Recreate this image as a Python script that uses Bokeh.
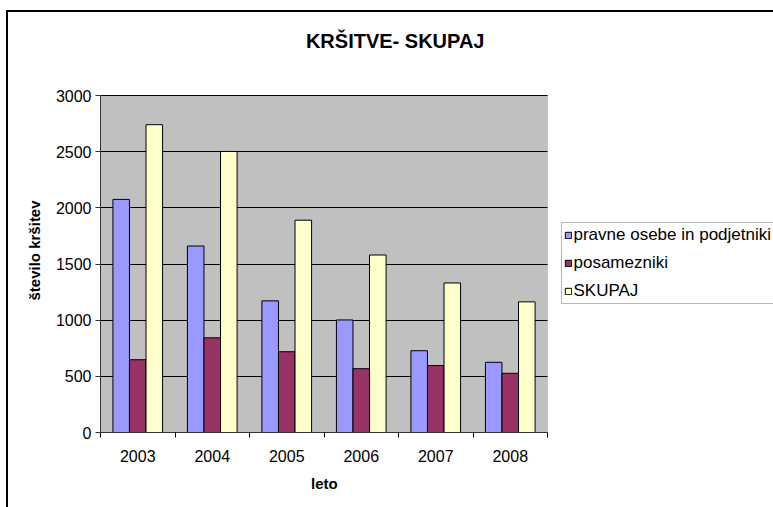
from bokeh.plotting import figure
from bokeh.models import (ColumnDataSource, FixedTicker, Legend, LegendItem,
                          Label, BoxAnnotation, Title)
from bokeh.transform import dodge
from bokeh.embed import file_html
from bokeh.resources import INLINE

# ---- data ----
years = ["2003", "2004", "2005", "2006", "2007", "2008"]
pravne = [2075, 1660, 1172, 1002, 728, 625]
posamezniki = [648, 843, 719, 568, 596, 527]
skupaj = [2740, 2502, 1890, 1580, 1331, 1163]
series_names = ["pravne osebe in podjetniki", "posamezniki", "SKUPAJ"]
y_ticks = [0, 500, 1000, 1500, 2000, 2500, 3000]
chart_title = "KRŠITVE- SKUPAJ"
x_title = "leto"
y_title = "število kršitev"

# ---- layout constants (canvas px) ----
W, H = 773, 507
PL, PR, PT, PB = 100, 547, 95, 432   # grey plot-area edges
FT = 20                              # top of the (transparent) frame
YMAX = 3000
NX = len(years)
FONT = "Liberation Sans"

px_per_x = (PR - PL) / NX
px_per_y = (PB - PT) / YMAX
x_end = (W - PL) / px_per_x
y_end = (PB - FT) / px_per_y

def dx(px):
    return (px - PL) / px_per_x

def dy(py):
    return (PB - py) / px_per_y

p = figure(width=W, height=H, x_range=(0, x_end), y_range=(0, y_end),
           output_backend="svg", toolbar_location=None,
           min_border_left=PL, min_border_right=0,
           min_border_top=FT, min_border_bottom=H - PB)
p.background_fill_alpha = 0
p.border_fill_alpha = 0
p.outline_line_color = None
# outer chart box (its left and top edges are visible)
p.styles = {
    "background": ("linear-gradient(#000, #000) 6px 10px / 2px calc(100% - 10px) no-repeat, "
                   "linear-gradient(#000, #000) 6px 10px / calc(100% - 6px) 2px no-repeat, "
                   "#ffffff"),
}

# grey plot area
p.add_layout(BoxAnnotation(left=0, right=NX, bottom=0, top=YMAX,
                           fill_color="#C0C0C0", fill_alpha=1,
                           line_color="#808080", line_width=1,
                           level="image", editable=False))

centers = [i + 0.5 for i in range(NX)]
src = ColumnDataSource(dict(xc=centers, years=years, pravne=pravne,
                            posamezniki=posamezniki, skupaj=skupaj))

w = 1 / 4.5
cols = ["pravne", "posamezniki", "skupaj"]
colors = ["#9999FF", "#993366", "#FFFFCC"]
offs = [-w, 0, w]
renderers = []
for c, col, off in zip(cols, colors, offs):
    r = p.vbar(x=dodge("xc", off), top=c, width=w, source=src,
               fill_color=col, line_color="black", line_width=1)
    renderers.append(r)

# ---- axes ----
xa = p.xaxis[0]
xa.bounds = (0, NX)
xa.ticker = FixedTicker(ticks=centers, minor_ticks=list(range(NX + 1)))
xa.major_label_overrides = {c: y for c, y in zip(centers, years)}
xa.major_tick_line_color = None
xa.major_tick_out = 5
xa.major_tick_in = 0
xa.minor_tick_line_color = "black"
xa.minor_tick_out = 5
xa.minor_tick_in = 0
xa.axis_line_color = "#333333"
xa.major_label_standoff = 12

ya = p.yaxis[0]
ya.bounds = (0, YMAX)
ya.ticker = FixedTicker(ticks=y_ticks)
ya.major_tick_out = 5
ya.major_tick_in = 0
ya.major_tick_line_color = "#333333"
ya.minor_tick_line_color = None
ya.axis_line_color = "#333333"
ya.major_label_standoff = 4

for ax in (xa, ya):
    ax.major_label_text_font = FONT
    ax.major_label_text_font_size = "16px"
    ax.major_label_text_color = "black"

# axis titles, placed in the side panels so they centre on the grey area
xt = Title(text=x_title, align="left", offset=210.5, vertical_align="top",
           standoff=20, text_font=FONT, text_font_size="15px",
           text_font_style="bold", text_color="black")
p.add_layout(xt, "below")
yt = Title(text=y_title, align="left", offset=PB - 300, standoff=20,
           text_font=FONT, text_font_size="15px",
           text_font_style="bold", text_color="black")
p.add_layout(yt, "left")

p.xgrid.visible = False
p.ygrid.ticker = FixedTicker(ticks=y_ticks)
p.ygrid.grid_line_color = "black"
p.ygrid.grid_line_width = 1
p.ygrid.cross_bounds = (0, NX)

# ---- legend ----
legend = Legend(items=[LegendItem(label=n, renderers=[r])
                       for n, r in zip(series_names, renderers)],
                location=(560.5 - PL, PB - 304.3),
                orientation="vertical",
                glyph_width=8, glyph_height=8, label_height=20,
                label_width=260, spacing=8, padding=2, margin=0,
                label_standoff=2,
                label_text_font=FONT, label_text_font_size="17px",
                label_text_color="black",
                border_line_color="#707070", border_line_width=1,
                background_fill_color="white", background_fill_alpha=1)
p.add_layout(legend, "center")

# ---- chart title ----
p.add_layout(Label(x=dx(394.7), y=dy(40.7), text=chart_title,
                   text_font=FONT, text_font_size="20px",
                   text_font_style="bold", text_align="center",
                   text_baseline="alphabetic", text_color="black"))

open("out.html", "w").write(file_html(p, INLINE))
